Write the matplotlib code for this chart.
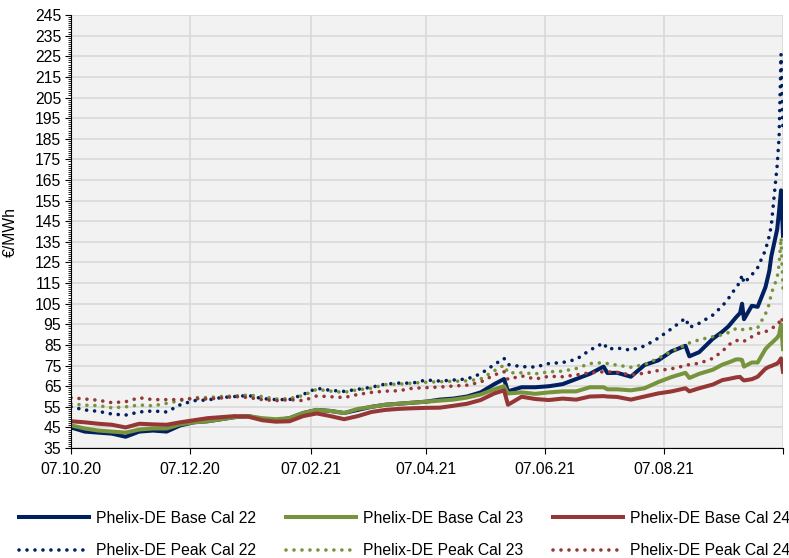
# %%
import pandas as pd
import matplotlib.pyplot as plt
from matplotlib.ticker import MultipleLocator

plt.rcParams['font.family'] = ['Liberation Sans', 'DejaVu Sans']

# %% values (EUR/MWh)
dates = ['2020-10-07', '2020-10-14', '2020-10-21', '2020-10-28', '2020-11-04', '2020-11-11',
         '2020-11-18', '2020-11-25', '2020-12-02', '2020-12-09', '2020-12-16', '2020-12-23',
         '2020-12-30', '2021-01-06', '2021-01-13', '2021-01-20', '2021-01-27', '2021-02-03',
         '2021-02-10', '2021-02-17', '2021-02-24', '2021-03-03', '2021-03-10', '2021-03-17',
         '2021-03-24', '2021-03-31', '2021-04-07', '2021-04-14', '2021-04-21', '2021-04-28',
         '2021-05-05', '2021-05-12', '2021-05-17', '2021-05-19', '2021-05-26', '2021-06-02',
         '2021-06-09', '2021-06-16', '2021-06-23', '2021-06-30', '2021-07-07', '2021-07-09',
         '2021-07-14', '2021-07-21', '2021-07-28', '2021-08-04', '2021-08-11', '2021-08-18',
         '2021-08-20', '2021-08-25', '2021-09-01', '2021-09-06', '2021-09-09', '2021-09-13',
         '2021-09-15', '2021-09-16', '2021-09-17', '2021-09-21', '2021-09-24', '2021-09-28',
         '2021-09-30', '2021-10-01', '2021-10-04', '2021-10-05', '2021-10-06', '2021-10-07']

base_22 = [45, 43, 42.5, 42, 40.5, 43, 43.5, 43, 46, 47.5, 48, 49,
           50, 50.5, 49, 48.5, 49.5, 52, 53.5, 53, 52, 53.5, 55, 56,
           56.5, 57, 57.5, 58.5, 59, 60, 62, 66, 68.5, 62.5, 64.5, 64.5,
           65, 66, 68.5, 71, 74.5, 71.4, 71.5, 69.6, 75.3, 77.5, 82, 84.6,
           79.5, 81.5, 88, 91.5, 94, 98.5, 100.5, 105, 97.5, 104, 103.5, 113,
           121, 128, 141, 150, 160, 138]
peak_22 = [55, 53.5, 52.8, 51.5, 51, 52.5, 53, 52.5, 56, 58, 58.3, 59.5,
           60, 60.5, 59, 58.5, 58.5, 61, 64, 63, 62.5, 63.5, 64.5, 66,
           66.5, 66.5, 68, 67.5, 68, 68.5, 71, 75.5, 78.5, 75.5, 74.5, 74.3,
           76, 76.5, 78, 82.5, 86, 83, 83.5, 82.5, 84.5, 88.3, 93, 98,
           93.5, 95.5, 99.5, 104, 107.5, 113, 115.5, 119, 115, 119, 122.5, 131,
           138, 143, 172, 186, 226, 188]
base_23 = [46, 44.5, 43.5, 43, 42.5, 44, 44.5, 44.5, 46.5, 47.5, 48, 49,
           50, 50.5, 49.5, 49, 49.5, 52, 53.5, 53, 52, 54, 55, 56,
           56.5, 57, 57.5, 58, 58.5, 59.5, 61, 63.5, 65, 61.5, 62, 61.3,
           62, 62.5, 62.5, 64.5, 64.5, 63.5, 63.5, 63, 64, 67, 69.5, 71.5,
           69, 71, 73, 75.5, 76.5, 78, 78, 77.7, 74.5, 76.5, 76.5, 83,
           85, 85.8, 88.5, 90, 95, 83]
peak_23 = [56.5, 55.8, 55.6, 54.5, 55, 55.9, 55.5, 56.7, 58, 59.5, 59.5, 60,
           60.3, 60.7, 60, 58.8, 59, 60.5, 63.5, 62.6, 62, 63.3, 64, 65.8,
           66, 66.5, 66.9, 67.2, 67.4, 67.6, 68.5, 72.5, 75.2, 71.5, 71.5, 71,
           72, 72.3, 73.6, 76, 76.4, 76, 75.2, 74.2, 75.5, 78.5, 82, 85,
           86, 87.5, 89, 90, 91, 93, 93, 92.5, 92.5, 93, 93.3, 100,
           105, 110, 117.6, 124, 137, 112]
base_24 = [48, 47.5, 46.8, 46.3, 45, 46.8, 46.5, 46.3, 47.5, 48.5, 49.5, 50,
           50.5, 50.2, 48.5, 47.8, 48, 50.5, 51.8, 50.5, 49, 50.5, 52.5, 53.5,
           54, 54.3, 54.5, 54.6, 55.5, 56.5, 58.3, 61.5, 63, 56, 59.9, 58.8,
           58.3, 59, 58.5, 60, 60.2, 60, 59.8, 58.5, 60, 61.5, 62.5, 64,
           62.5, 64, 65.8, 68, 68.5, 69.3, 69.5, 68.5, 67.8, 68.4, 69.6, 73.5,
           74.5, 74.8, 76, 77, 78.5, 72]
peak_24 = [59.4, 58.8, 58.2, 57, 57.5, 59.4, 58.5, 58.5, 58.5, 59, 58.8, 59.3,
           60, 59.5, 58.5, 58, 58.5, 58, 60.3, 59.9, 59.5, 61, 62, 62.6,
           62.8, 64, 64.3, 64.6, 65.1, 65.5, 67, 70.5, 72, 68.3, 70, 68.5,
           69.8, 69.6, 70.5, 71.5, 72, 72, 71.7, 70.5, 71.3, 72.6, 73.5, 75,
           75.5, 76.1, 78.5, 82, 85, 87.2, 87, 86.6, 86.8, 89, 90.6, 91.4,
           92.5, 93, 94.6, 96, 98.4, 95.8]

tick_dates = ['2020-10-07', '2020-12-07', '2021-02-07', '2021-04-07', '2021-06-07', '2021-08-07', '2021-10-07']
tick_labels = ['07.10.20', '07.12.20', '07.02.21', '07.04.21', '07.06.21', '07.08.21', '']
y_ticks = list(range(35, 246, 10))

navy = '#002060'
green = '#77933C'
red = '#953735'

# %%
x = pd.to_datetime(dates)
dot = (0, (0.01, 2.2))

fig = plt.figure(figsize=(7.89, 5.58), dpi=100)
ax = fig.add_axes([0.09, 0.197, 0.9024, 0.776])
ax.set_facecolor('#f2f2f2')

l1, = ax.plot(x, base_22, color=navy, lw=2.9, label='Phelix-DE Base Cal 22')
l2, = ax.plot(x, base_23, color=green, lw=2.9, label='Phelix-DE Base Cal 23')
l3, = ax.plot(x, base_24, color=red, lw=2.9, label='Phelix-DE Base Cal 24')
l4, = ax.plot(x, peak_22, color=navy, lw=2.6, ls=dot, dash_capstyle='round', label='Phelix-DE Peak Cal 22')
l5, = ax.plot(x, peak_23, color=green, lw=2.6, ls=dot, dash_capstyle='round', label='Phelix-DE Peak Cal 23')
l6, = ax.plot(x, peak_24, color=red, lw=2.6, ls=dot, dash_capstyle='round', label='Phelix-DE Peak Cal 24')

ax.set_xlim(pd.Timestamp('2020-10-07'), pd.Timestamp('2021-10-07'))
ax.set_ylim(35, 245)
ax.set_yticks(y_ticks)
ax.yaxis.set_minor_locator(MultipleLocator(1))
ax.set_xticks(pd.to_datetime(tick_dates))
ax.set_xticklabels(tick_labels)

ax.grid(True, which='major', color='#d9d9d9', lw=1.2)
ax.set_axisbelow(True)
for s in ['top', 'right']:
    ax.spines[s].set_visible(False)
ax.tick_params(axis='both', which='major', labelsize=11.3, length=4, color='black')
ax.tick_params(axis='y', which='minor', length=2.5, color='black')
ax.tick_params(axis='y', which='major', pad=3)
ax.tick_params(axis='x', which='major', pad=6)

ax.set_ylabel('€/MWh', fontsize=11.3)
ax.yaxis.set_label_coords(-0.074, 0.5)

fig.legend(handles=[l1, l4, l2, l5, l3, l6], ncol=3, loc='center', bbox_to_anchor=(0.5126, 0.042),
           frameon=False, fontsize=11.3, handlelength=4.45, handletextpad=0.45,
           columnspacing=1.9, labelspacing=1.1)

plt.savefig('out.png', dpi=100)
